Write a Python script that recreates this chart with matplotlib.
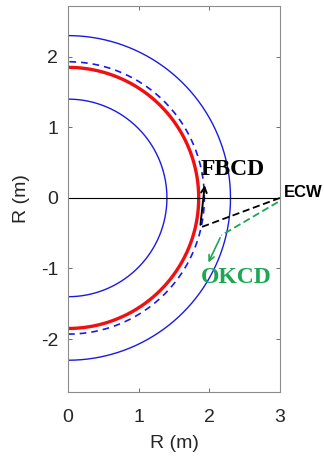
import numpy as np
import matplotlib.pyplot as plt

plt.rcParams['axes.unicode_minus'] = False

# flux surface radii (m)
inner_r = 1.4
res_r = 1.85
res_dash_r = 1.93
outer_r = 2.3

# launcher and ray endpoints (R, Z)
ecw_pt = (3.0, 0.0)
ray_end = (1.87, -0.42)
fbcd_tip = (1.94, 0.22)
ok_start = (2.97, -0.06)
ok_mid = (2.17, -0.53)
ok_tip = (1.97, -0.95)

blue = '#1a1ae6'
green = '#1fa653'
axis_font = 'Liberation Sans'

fig = plt.figure(figsize=(3.24, 4.59), dpi=100)
ax = fig.add_axes([0.21, 0.146, 0.654, 0.841])

th = np.linspace(-np.pi / 2, np.pi / 2, 400)
ax.plot(inner_r * np.cos(th), inner_r * np.sin(th), color=blue, lw=1.0)
ax.plot(outer_r * np.cos(th), outer_r * np.sin(th), color=blue, lw=1.0)
ax.plot(res_dash_r * np.cos(th), res_dash_r * np.sin(th), color=blue, lw=1.2, ls=(0, (4, 3)))
ax.plot(res_r * np.cos(th), res_r * np.sin(th), color='#f01010', lw=2.4)
ax.axhline(0, color='black', lw=0.8)

# ECW ray and the two current drive branches
ax.plot([ecw_pt[0], ray_end[0]], [ecw_pt[1], ray_end[1]], color='black', lw=1.3, ls=(0, (4, 2)))
ax.annotate('', xy=fbcd_tip, xytext=ray_end,
            arrowprops=dict(arrowstyle='->', color='black', lw=1.4, mutation_scale=10))
ax.plot([ok_start[0], ok_mid[0]], [ok_start[1], ok_mid[1]], color=green, lw=1.3, ls=(0, (4, 2)))
ax.annotate('', xy=ok_tip, xytext=ok_mid,
            arrowprops=dict(arrowstyle='->', color=green, lw=1.2, mutation_scale=10))

ax.text(2.33, 0.40, 'FBCD', fontsize=17, fontweight='bold', family='Liberation Serif',
        ha='center', va='center', color='black')
ax.text(2.38, -1.13, 'OKCD', fontsize=17, fontweight='bold', family='Liberation Serif',
        ha='center', va='center', color=green)
ax.text(3.055, 0.08, 'ECW', fontsize=12, fontweight='bold', family=axis_font,
        ha='left', va='center', color='black', clip_on=False)

ax.set_xlim(0, 3)
ax.set_ylim(-2.75, 2.72)
ax.set_xticks([0, 1, 2, 3])
ax.set_yticks([-2, -1, 0, 1, 2])
ax.tick_params(direction='in', top=True, right=True, length=3, width=0.6,
               color='#555555', labelsize=14, labelcolor='#262626')
ax.tick_params(axis='x', pad=12)
ax.tick_params(axis='y', pad=7)
for lab in ax.get_xticklabels() + ax.get_yticklabels():
    lab.set_family(axis_font)
for s in ax.spines.values():
    s.set_color('#8c8c8c')
    s.set_linewidth(0.8)
ax.set_xlabel('R (m)', fontsize=14, color='#262626', family=axis_font, labelpad=7)
ax.set_ylabel('R (m)', fontsize=14, color='#262626', family=axis_font, labelpad=8)

fig.savefig('out.png', dpi=100)
